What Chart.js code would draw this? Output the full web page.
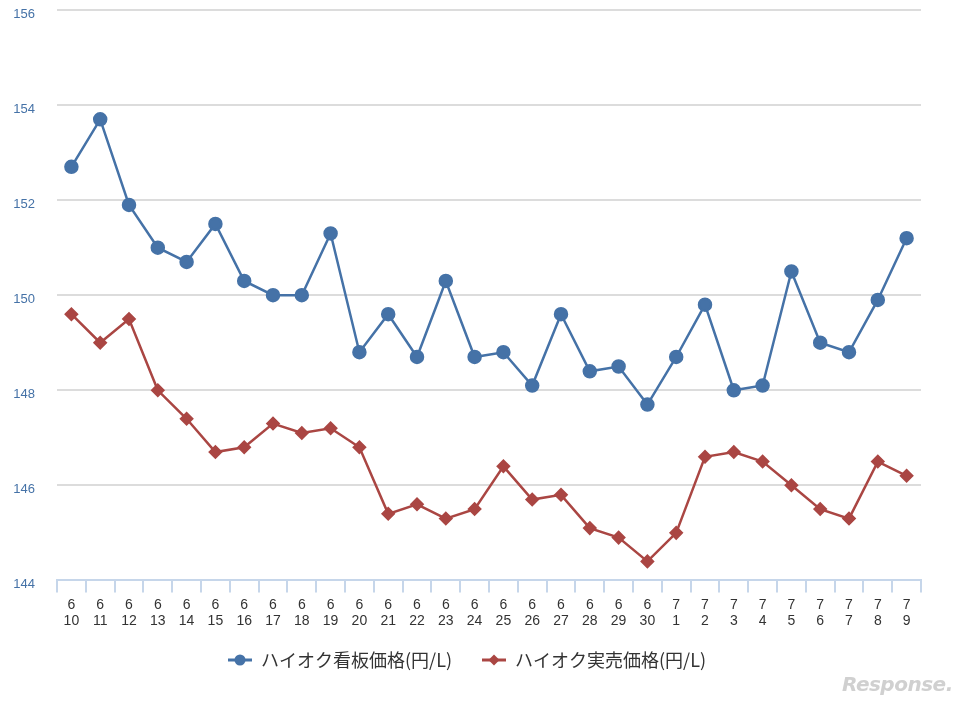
<!DOCTYPE html>
<html><head><meta charset="utf-8">
<script src="https://cdn.jsdelivr.net/npm/chart.js@4.4.1/dist/chart.umd.min.js"></script>
<style>
html,body{margin:0;padding:0;background:#fff;}
#wrap{position:relative;width:968px;height:707px;}
#wm{position:absolute;left:842px;top:672px;font:italic bold 20px "DejaVu Sans",sans-serif;color:#d0d0d0;letter-spacing:-0.5px;}
</style>
</head><body>
<div id="wrap"><canvas id="c" width="968" height="707"></canvas><div id="wm">Response.</div></div>
<script>
const months = ['6','6','6','6','6','6','6','6','6','6','6','6','6','6','6','6','6','6','6','6','6','7','7','7','7','7','7','7','7','7'];
const days = ['10','11','12','13','14','15','16','17','18','19','20','21','22','23','24','25','26','27','28','29','30','1','2','3','4','5','6','7','8','9'];
const signPrice = [152.7,153.7,151.9,151.0,150.7,151.5,150.3,150.0,150.0,151.3,148.8,149.6,148.7,150.3,148.7,148.8,148.1,149.6,148.4,148.5,147.7,148.7,149.8,148.0,148.1,150.5,149.0,148.8,149.9,151.2];
const actualPrice = [149.6,149.0,149.5,148.0,147.4,146.7,146.8,147.3,147.1,147.2,146.8,145.4,145.6,145.3,145.5,146.4,145.7,145.8,145.1,144.9,144.4,145.0,146.6,146.7,146.5,146.0,145.5,145.3,146.5,146.2];
const seriesNames = ['ハイオク看板価格(円/L)','ハイオク実売価格(円/L)'];
const yTicks = [144,146,148,150,152,154,156];

const labels = months.map((m,i)=>[m, days[i]]);
const BLUE = '#4572a7', RED = '#aa4643';

// legend icon: 13px transparent lead-in + 24px line with marker
function legendIcon(color, shape){
  const c = document.createElement('canvas');
  c.width = 37; c.height = 14;
  const g = c.getContext('2d');
  const x0 = 13, cx = x0 + 12;
  g.strokeStyle = color; g.lineWidth = 3;
  g.beginPath(); g.moveTo(x0,7); g.lineTo(x0+24,7); g.stroke();
  g.fillStyle = color;
  g.beginPath();
  if (shape === 'circle') { g.arc(cx,7,5.5,0,Math.PI*2); }
  else { g.moveTo(cx,1.5); g.lineTo(cx+5.5,7); g.lineTo(cx,12.5); g.lineTo(cx-5.5,7); g.closePath(); }
  g.fill();
  return c;
}

new Chart(document.getElementById('c'), {
  type: 'line',
  data: {
    labels: labels,
    datasets: [
      { label: seriesNames[0], data: signPrice, borderColor: BLUE, backgroundColor: BLUE,
        borderWidth: 2.5, pointStyle: 'circle', pointRadius: 6, pointHoverRadius: 6, tension: 0,
        legendIcon: legendIcon(BLUE,'circle') },
      { label: seriesNames[1], data: actualPrice, borderColor: RED, backgroundColor: RED,
        borderWidth: 2.5, pointStyle: 'rectRot', pointRadius: 5.5, pointHoverRadius: 5.5, tension: 0,
        legendIcon: legendIcon(RED,'diamond') }
    ]
  },
  options: {
    responsive: false,
    animation: false,
    layout: { padding: { left: 0, right: 47, top: 10, bottom: 28 } },
    plugins: {
      tooltip: { enabled: false },
      legend: {
        position: 'bottom',
        labels: {
          usePointStyle: true,
          pointStyleWidth: 37,
          boxWidth: 37, boxHeight: 14,
          padding: 17,
          color: '#333',
          font: { family: '"Noto Sans CJK JP", sans-serif', size: 18 },
          generateLabels(chart) {
            return chart.data.datasets.map((ds,i)=>({
              text: ds.label, pointStyle: ds.legendIcon, fillStyle: ds.borderColor,
              strokeStyle: ds.borderColor, lineWidth: 0, datasetIndex: i, hidden: false, fontColor: '#333'
            }));
          }
        }
      }
    },
    scales: {
      x: {
        offset: true,
        grid: { display: true, drawOnChartArea: false, drawTicks: true, tickLength: 12, color: '#c6d6ea', lineWidth: 2, offset: true },
        border: { display: true, color: '#c6d6ea', width: 2 },
        ticks: { color: '#333', font: { family: 'Arial, "Liberation Sans", sans-serif', size: 14 }, maxRotation: 0, autoSkip: false, padding: 4 }
      },
      y: {
        min: 144, max: 156,
        afterBuildTicks(scale){ scale.ticks = yTicks.map(v=>({value:v})); },
        afterFit(scale){ scale.width = 57; scale.paddingTop = 0; scale.paddingBottom = 0; },
        grid: { color: '#dcdcdc', lineWidth: 2, drawTicks: false },
        border: { display: false },
        ticks: { color: '#4572a7', crossAlign: 'near', padding: 22, labelOffset: 4, font: { family: 'Arial, "Liberation Sans", sans-serif', size: 13 } }
      }
    }
  }
});
</script>
</body></html>
